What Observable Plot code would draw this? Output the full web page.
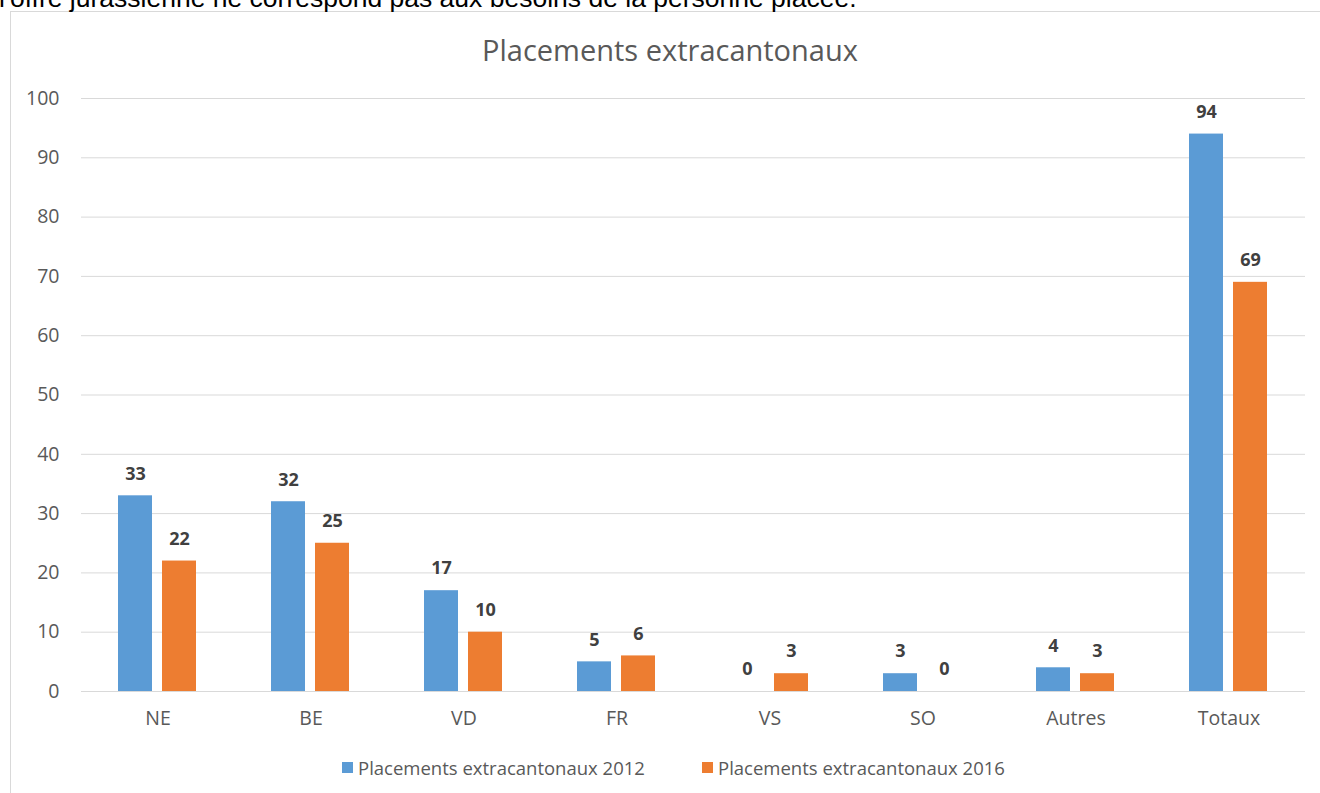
<!DOCTYPE html>
<html>
<head>
<meta charset="utf-8">
<script src="https://cdn.jsdelivr.net/npm/d3@7"></script>
<script src="https://cdn.jsdelivr.net/npm/@observablehq/plot@0.6"></script>
<style>
  html, body { margin: 0; padding: 0; background: #fff; overflow: hidden; }
  body { width: 1320px; height: 793px; position: relative; font-family: "Open Sans", sans-serif; }
  #toptext { position: absolute; left: -1px; top: -17px; font-family: "Liberation Sans", Arial, sans-serif; font-size: 26.5px; line-height: normal; color: #000; white-space: nowrap; }
  #frame { position: absolute; left: 10px; top: 11px; width: 1330px; height: 800px; border: 1px solid #d9d9d9; box-sizing: border-box; background: #fff; }
  #title { position: absolute; left: 0; width: 1340px; top: 30px; text-align: center; font-size: 29px; color: #595959; }
  #chart { position: absolute; left: 0; top: 0; }
  #chart svg text { font-size: 19.5px !important; font-family: "Open Sans", sans-serif; }
  #chart svg g[aria-label="text"] text { font-size: 18px !important; }
  #legend { position: absolute; top: 755px; left: 0; width: 1320px; font-size: 18.5px; color: #595959; }
  .li { position: absolute; display: flex; align-items: center; white-space: nowrap; }
  .sw { width: 11px; height: 11px; margin-right: 5px; }
</style>
</head>
<body>
<div id="frame"></div>
<div id="toptext">l'offre jurassienne ne correspond pas aux besoins de la personne placée.</div>
<div id="title">Placements extracantonaux</div>
<div id="chart"></div>
<div id="legend"></div>
<script>
const categories = ["NE", "BE", "VD", "FR", "VS", "SO", "Autres", "Totaux"];
const seriesNames = ["Placements extracantonaux 2012", "Placements extracantonaux 2016"];
const values2012 = [33, 32, 17, 5, 0, 3, 4, 94];
const values2016 = [22, 25, 10, 6, 3, 0, 3, 69];
const colors = ["#5B9BD5", "#ED7D31"];
const yTicks = [0, 10, 20, 30, 40, 50, 60, 70, 80, 90, 100];

const data = [];
categories.forEach((c, i) => {
  data.push({cat: c, series: seriesNames[0], value: values2012[i]});
  data.push({cat: c, series: seriesNames[1], value: values2016[i]});
});

const plot = Plot.plot({
  width: 1320,
  height: 793,
  marginLeft: 79,
  marginRight: 13,
  marginTop: 98,
  marginBottom: 102,
  style: { fontFamily: "'Open Sans', sans-serif", fontSize: "18px", color: "#595959", background: "transparent", overflow: "visible" },
  fx: { domain: categories, padding: 0 },
  x: { domain: seriesNames, axis: null, paddingInner: 0.227, paddingOuter: 0.852 },
  y: { domain: [0, 100] },
  color: { domain: seriesNames, range: colors },
  marks: [
    Plot.ruleY(yTicks, { y: d => d, stroke: "#d9d9d9", strokeWidth: 1 }),
    Plot.axisY({ ticks: yTicks, tickSize: 0, tickPadding: 22, label: null, fill: "#595959", tickFormat: d => String(d) }),
    Plot.axisFx({ anchor: "bottom", tickSize: 0, tickPadding: 20, label: null, fill: "#595959" }),
    Plot.barY(data, { fx: "cat", x: "series", y: "value", fill: "series" }),
    Plot.text(data, { fx: "cat", x: "series", y: "value", text: d => String(d.value), dy: -22, fontWeight: "bold", fill: "#404040" })
  ]
});
document.getElementById("chart").appendChild(plot);

const legend = document.getElementById("legend");
const lx = [342, 702];
seriesNames.forEach((s, i) => {
  const el = document.createElement("div");
  el.className = "li";
  el.style.left = lx[i] + "px";
  el.innerHTML = `<span class="sw" style="background:${colors[i]}"></span><span>${s}</span>`;
  legend.appendChild(el);
});
</script>
</body>
</html>
